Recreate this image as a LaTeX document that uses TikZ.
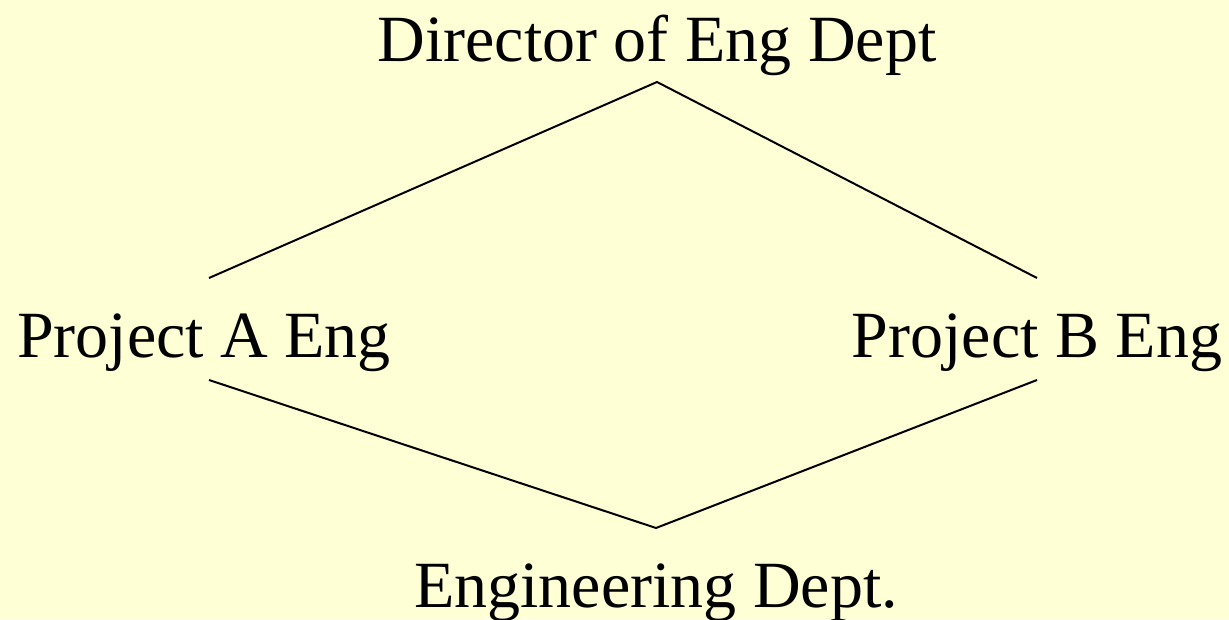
\documentclass[tikz,border=0pt]{standalone}
\usepackage{fontspec}
\setmainfont{Liberation Serif}
\usepackage{tikz}
\usetikzlibrary{positioning}
\usetikzlibrary{calc}

\definecolor{paper}{RGB}{255,255,213}

\tikzset{
	role/.style = {inner sep=0pt, anchor=base, font=\fontsize{66}{79}\selectfont},
	link/.style = {line width=2pt, black}
}

\begin{document}
\begin{tikzpicture}[x=1pt, y=1pt]
	\fill[paper] (0,0) rectangle (1229,619);
	\useasboundingbox (0,0) rectangle (1229,619);

	% the four roles of the matrix
	\node[role] (dir) at (657,557) {Director of Eng Dept};
	\node[role] (pa) at (204,261) {Project A Eng};
	\node[role] (pb) at (1037,261) {Project B Eng};
	\node[role] (eng) at (656,12) {Engineering Dept.};

	% upper and lower diamond halves
	\draw[link] ([xshift=5pt, yshift=80pt]pa.base) -- ([yshift=-20pt]dir.base) -- ([yshift=80pt]pb.base);
	\draw[link] ([xshift=5pt, yshift=-22pt]pa.base) -- ([yshift=79pt]eng.base) -- ([yshift=-22pt]pb.base);
\end{tikzpicture}
\end{document}
